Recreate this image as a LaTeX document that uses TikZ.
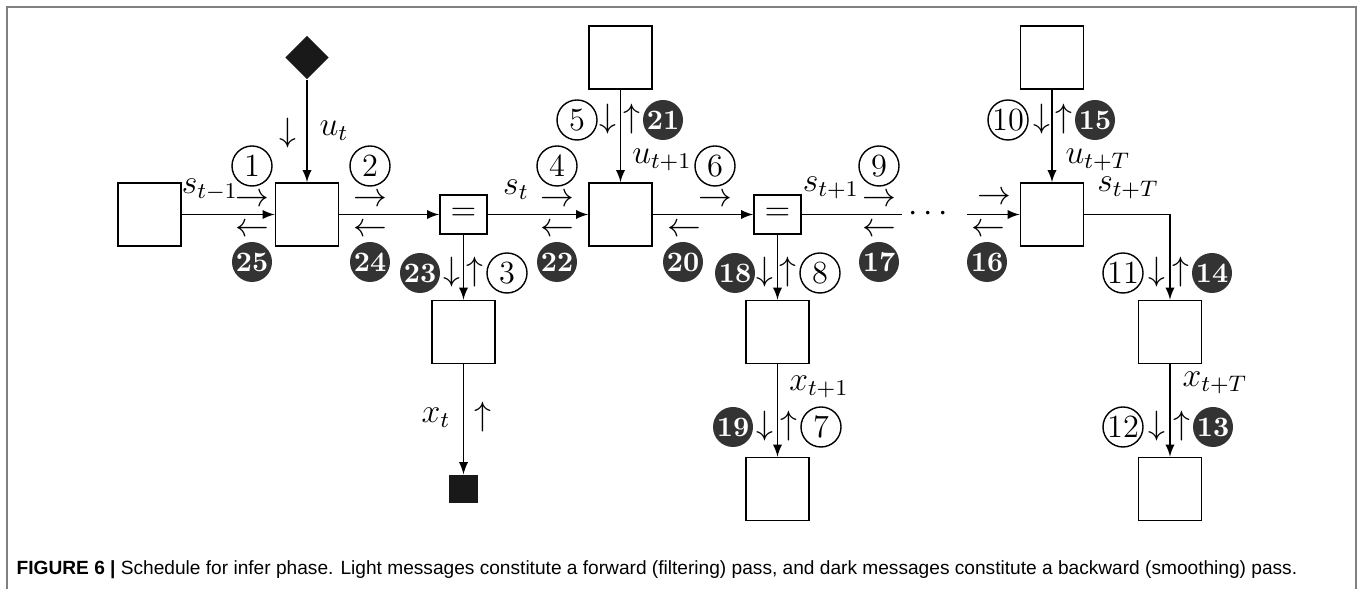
\documentclass[tikz,border=0pt]{standalone}
\usepackage{amsmath}
\usepackage{fontspec}
\usepackage{tikz}
\usetikzlibrary{arrows,shapes.geometric}
\newfontfamily\capfont{Liberation Sans}
\definecolor{msgdark}{gray}{0.2}
\definecolor{framegray}{gray}{0.5}
\tikzset{
  factor/.style={draw,minimum size=0.79cm,inner sep=0pt},
  equal/.style={draw,minimum width=0.59cm,minimum height=0.49cm,inner sep=0pt},
  msgf/.style={circle,draw,line width=0.5pt,minimum size=0.5cm,inner sep=0pt},
  msgb/.style={circle,fill=msgdark,text=white,minimum size=0.5cm,inner sep=0pt,font=\bfseries},
  msgdir/.style={inner sep=0pt,text height=1.2ex,text depth=0pt},
}

\begin{document}
\begin{tikzpicture}[x=0.0125cm,y=-0.0125cm,>=latex,line width=0.5pt,font=\fontsize{11.5}{13}\selectfont]
    \useasboundingbox (0,0) rectangle (1363,589);
    \draw[framegray,line width=0.8pt] (7,589) -- (7,7) -- (1356,7) -- (1356,589);

    % factors and variables
    \node[factor] (sprev) at (149.5,214.5) {};
    \node[factor] (f1) at (307,214.5) {};
    \node[diamond,fill=black!90,minimum size=0.55cm,inner sep=0pt] (u1) at (307,57.5) {};
    \node[equal] (eq1) at (463.5,214.5) {$=$};
    \node[factor] (o1) at (463.5,332) {};
    \node[fill=black!90,minimum size=0.35cm,inner sep=0pt] (x1) at (463.5,489) {};
    \node[factor] (u2) at (620.5,57.5) {};
    \node[factor] (f2) at (620.5,214.5) {};
    \node[equal] (eq2) at (777.5,214.5) {$=$};
    \node[factor] (o2) at (777.5,332) {};
    \node[factor] (x2) at (777.5,489) {};
    \node (dots) at (931,214.5) {$\cdots$};
    \coordinate (gapl) at (902,214.5);
    \coordinate (gapr) at (967,214.5);
    \node[factor] (uT) at (1052,57.5) {};
    \node[factor] (fT) at (1052,214.5) {};
    \node[factor] (oT) at (1170,332) {};
    \node[factor] (xT) at (1170,489) {};

    \draw[->] (sprev)--(f1);
    \draw[->] (u1)--(f1);
    \draw[->] (f1)--(eq1);
    \draw[->] (eq1)--(f2);
    \draw[->] (eq1)--(o1);
    \draw[->] (o1)--(x1);
    \draw[->] (u2)--(f2);
    \draw[->] (f2)--(eq2);
    \draw[->] (eq2)--(o2);
    \draw[->] (o2)--(x2);
    \draw (eq2)--(gapl);
    \draw[->] (gapr)--(fT);
    \draw[->] (uT)--(fT);
    \draw[->] (fT.east) -| (oT.north);
    \draw[->] (oT)--(xT);

    % edge names
    \node (ls0) at (210,190) {$s_{t-1}$};
    \node (lu1) at (334,131) {$u_t$};
    \node (ls1) at (516,190) {$s_t$};
    \node (lx1) at (436,418) {$x_t$};
    \node (lu2) at (662,160) {$u_{t+1}$};
    \node (ls2) at (831,188) {$s_{t+1}$};
    \node (lx2) at (819,387) {$x_{t+1}$};
    \node (luT) at (1098,160) {$u_{t+T}$};
    \node (lsT) at (1128,188) {$s_{t+T}$};
    \node (lxT) at (1215,383) {$x_{t+T}$};

    % message directions
    \node[msgdir] (d1) at (252,199) {$\rightarrow$};
    \node[msgdir] (d25) at (252,229) {$\leftarrow$};
    \node[msgdir] (d0) at (288,134) {$\downarrow$};
    \node[msgdir] (d2) at (370,199) {$\rightarrow$};
    \node[msgdir] (d24) at (370,229) {$\leftarrow$};
    \node[msgdir] (d23) at (452,273) {$\downarrow$};
    \node[msgdir] (d3) at (475,273) {$\uparrow$};
    \node[msgdir] (dx1) at (483,418) {$\uparrow$};
    \node[msgdir] (d4) at (557,199) {$\rightarrow$};
    \node[msgdir] (d22) at (557,229) {$\leftarrow$};
    \node[msgdir] (d5) at (608,120) {$\downarrow$};
    \node[msgdir] (d21) at (632,120) {$\uparrow$};
    \node[msgdir] (d6) at (715,199) {$\rightarrow$};
    \node[msgdir] (d20) at (684,229) {$\leftarrow$};
    \node[msgdir] (d18) at (765,273) {$\downarrow$};
    \node[msgdir] (d8) at (788,273) {$\uparrow$};
    \node[msgdir] (d19) at (765,427) {$\downarrow$};
    \node[msgdir] (d7) at (789,427) {$\uparrow$};
    \node[msgdir] (d9) at (879,199) {$\rightarrow$};
    \node[msgdir] (d17) at (879,229) {$\leftarrow$};
    \node[msgdir] (dT) at (994,197) {$\rightarrow$};
    \node[msgdir] (d16) at (988,229) {$\leftarrow$};
    \node[msgdir] (d10) at (1042,120) {$\downarrow$};
    \node[msgdir] (d15) at (1064,120) {$\uparrow$};
    \node[msgdir] (d11) at (1157,273) {$\downarrow$};
    \node[msgdir] (d14) at (1181,273) {$\uparrow$};
    \node[msgdir] (d12) at (1157,427) {$\downarrow$};
    \node[msgdir] (d13) at (1182,427) {$\uparrow$};

    % forward pass
    \node[msgf] (m1) at (252,166) {1};
    \node[msgf] (m2) at (370,166) {2};
    \node[msgf] (m3) at (507,273) {3};
    \node[msgf] (m4) at (557,166) {4};
    \node[msgf] (m5) at (577,120) {5};
    \node[msgf] (m6) at (715,166) {6};
    \node[msgf] (m7) at (821,427) {7};
    \node[msgf] (m8) at (820,273) {8};
    \node[msgf] (m9) at (879,166) {9};
    \node[msgf] (m10) at (1008,120) {10};
    \node[msgf] (m11) at (1123,273) {11};
    \node[msgf] (m12) at (1123,427) {12};

    % backward pass
    \node[msgb] (m13) at (1213,427) {13};
    \node[msgb] (m14) at (1212,273) {14};
    \node[msgb] (m15) at (1095,120) {15};
    \node[msgb] (m16) at (987,262) {16};
    \node[msgb] (m17) at (879,262) {17};
    \node[msgb] (m18) at (735,273) {18};
    \node[msgb] (m19) at (733,427) {19};
    \node[msgb] (m20) at (683,262) {20};
    \node[msgb] (m21) at (663,120) {21};
    \node[msgb] (m22) at (557,262) {22};
    \node[msgb] (m23) at (420,273) {23};
    \node[msgb] (m24) at (370,262) {24};
    \node[msgb] (m25) at (252,262) {25};

    \node[anchor=west,inner sep=0pt,font=\capfont\fontsize{6.8}{8}\selectfont] (cap) at (16,570)
      {\textbf{FIGURE 6 |} Schedule for infer phase. Light messages constitute a forward (filtering) pass, and dark messages constitute a backward (smoothing) pass.};
\end{tikzpicture}
\end{document}
